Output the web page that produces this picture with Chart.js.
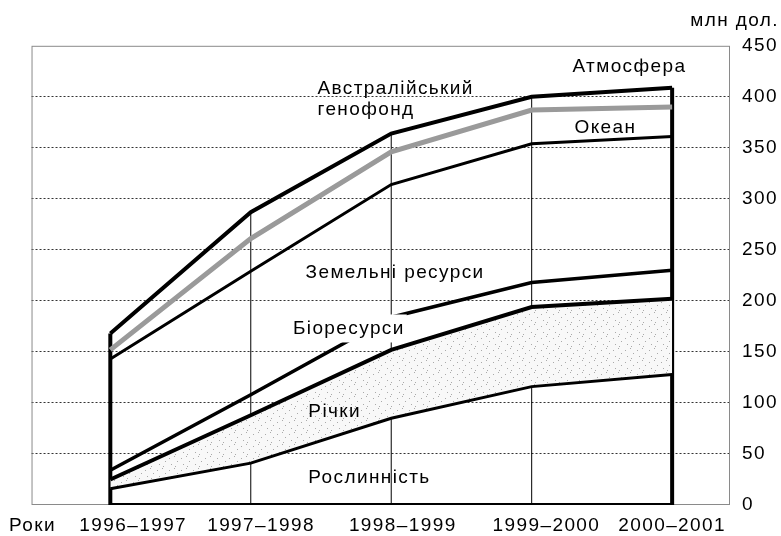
<!DOCTYPE html>
<html>
<head>
<meta charset="utf-8">
<script src="https://cdn.jsdelivr.net/npm/chart.js@4.4.1/dist/chart.umd.min.js"></script>
<style>
    html, body { margin: 0; padding: 0; background: #fff; }
    #wrap { width: 781px; height: 536px; }
</style>
</head>
<body>
<div id="wrap"><canvas id="chart" width="781" height="536"></canvas></div>
<script>
// =========================
// DATA
// =========================

const years = ["1996–1997", "1997–1998", "1998–1999", "1999–2000", "2000–2001"];
const axisName = "Роки";
const unitLabel = "млн дол.";

// upper edge of each layer, cumulative, млн дол.
const roslynnist = [16, 41, 85, 116, 128];
const richky     = [25, 88, 152, 194, 202];
const bioresursy = [34, 108, 184, 218, 230];
const zemelni    = [143, 229, 314, 354, 361];
const okean      = [152, 261, 346, 387, 390];
const atmosfera  = [168, 287, 364, 400, 409];

const yTicks = [0, 50, 100, 150, 200, 250, 300, 350, 400, 450];

// where the year captions sit on the x scale (they are not centred on the lines)
const yearLabelAt = [0.163, 1.073, 2.082, 3.105, 4.0];
const axisNameAt = -0.554;

// text written inside the plot (data coordinates)
const notes = [
    { text: "Австралійський", x: 1.475, y: 408 },
    { text: "генофонд", x: 1.475, y: 387 },
    { text: "Атмосфера", x: 3.29, y: 429 },
    { text: "Океан", x: 3.305, y: 370 },
    { text: "Земельні ресурси", x: 1.39, y: 228 },
    { text: "Біоресурси", x: 1.30, y: 173, knockout: true },
    { text: "Річки", x: 1.41, y: 91 },
    { text: "Рослинність", x: 1.41, y: 27 }
];

// =========================
// HELPERS
// =========================

const FONT = '"Liberation Sans", Arial, sans-serif';
const SIZE = 19;
const SPACING = "1.4px";

function points(arr) {
    return arr.map((v, i) => ({ x: i, y: v }));
}

function line(label, arr, width, color) {
    return {
        label: label,
        data: points(arr),
        borderColor: color || "#000",
        borderWidth: width,
        borderJoinStyle: "miter",
        pointRadius: 0,
        tension: 0,
        fill: false
    };
}

// light stipple for the "Річки" band
const canvas = document.getElementById("chart");
const tile = document.createElement("canvas");
tile.width = 12;
tile.height = 12;
const tg = tile.getContext("2d");
tg.fillStyle = "#f8f8f8";
tg.fillRect(0, 0, 12, 12);
tg.fillStyle = "#aaaaaa";
[[1, 2], [6, 0], [9, 5], [3, 8], [7, 10]].forEach(p => tg.fillRect(p[0], p[1], 1, 1));
const stipple = canvas.getContext("2d").createPattern(tile, "repeat");

// =========================
// DATASETS
// =========================

const datasets = [
    line("Рослинність", roslynnist, 3),
    Object.assign(line("Річки", richky, 4), { fill: { target: 0 }, backgroundColor: stipple }),
    line("Біоресурси", bioresursy, 3.5),
    line("Земельні ресурси", zemelni, 3),
    line("Океан", okean, 5, "#9a9a9a"),
    line("Атмосфера", atmosfera, 4)
];

// vertical lines under each year, up to the top edge
years.forEach((y, i) => {
    const edge = i === 0 || i === years.length - 1;
    datasets.push({
        label: "drop " + y,
        data: [{ x: i, y: 0 }, { x: i, y: atmosfera[i] }],
        borderColor: "#000",
        borderWidth: edge ? 4 : 1,
        pointRadius: 0,
        fill: false
    });
});

datasets.push({
    label: "base",
    data: [{ x: 0, y: 0 }, { x: years.length - 1, y: 0 }],
    borderColor: "#000",
    borderWidth: 4,
    pointRadius: 0,
    fill: false
});

// =========================
// PLUGINS
// =========================

const spacing = {
    id: "spacing",
    beforeLayout(chart) { chart.ctx.letterSpacing = SPACING; },
    beforeDraw(chart) { chart.ctx.letterSpacing = SPACING; }
};

const frame = {
    id: "frame",
    beforeDatasetsDraw(chart) {
        const a = chart.chartArea;
        const ctx = chart.ctx;
        ctx.save();
        ctx.strokeStyle = "#8a8a8a";
        ctx.lineWidth = 1;
        ctx.strokeRect(a.left + 0.5, a.top + 0.5, a.right - a.left - 1, a.bottom - a.top - 1);
        ctx.restore();
    }
};

const labels = {
    id: "labels",
    afterDatasetsDraw(chart) {
        const ctx = chart.ctx;
        const sx = chart.scales.x;
        const sy = chart.scales.y;
        ctx.save();
        ctx.letterSpacing = SPACING;
        ctx.font = SIZE + "px " + FONT;
        ctx.textAlign = "left";
        ctx.textBaseline = "middle";
        notes.forEach(n => {
            const px = sx.getPixelForValue(n.x);
            const py = sy.getPixelForValue(n.y);
            if (n.knockout) {
                const w = ctx.measureText(n.text).width;
                ctx.fillStyle = "#fff";
                ctx.fillRect(px - 2, py - 14, w + 4, 28);
            }
            ctx.fillStyle = "#000";
            ctx.fillText(n.text, px, py);
        });
        ctx.restore();
    }
};

// =========================
// CHART
// =========================

Chart.defaults.font.family = FONT;
Chart.defaults.font.size = SIZE;
Chart.defaults.color = "#000";

new Chart(canvas, {
    type: "line",
    data: { datasets: datasets },
    options: {
        responsive: false,
        animation: false,
        layout: { padding: { top: 4, left: 30, right: 2, bottom: 0 } },
        plugins: {
            legend: { display: false },
            tooltip: { enabled: false },
            title: {
                display: true,
                text: unitLabel,
                align: "end",
                font: { size: SIZE, weight: "normal" },
                color: "#000",
                padding: { top: 5, bottom: 14 }
            }
        },
        scales: {
            x: {
                type: "linear",
                min: -0.561,
                max: 4.412,
                grid: { display: false, drawTicks: false },
                border: { display: false },
                afterBuildTicks(axis) {
                    axis.ticks = [{ value: axisNameAt }].concat(yearLabelAt.map(v => ({ value: v })));
                },
                afterFit(axis) { axis.height = 31; },
                ticks: {
                    autoSkip: false,
                    maxRotation: 0,
                    padding: 9,
                    callback: (v, i) => (i === 0 ? axisName : years[i - 1])
                }
            },
            y: {
                position: "right",
                min: yTicks[0],
                max: yTicks[yTicks.length - 1],
                afterBuildTicks(axis) {
                    axis.ticks = yTicks.map(v => ({ value: v }));
                },
                afterFit(axis) { axis.width = 49; },
                grid: {
                    drawTicks: false,
                    lineWidth: 1,
                    color: ctx => (ctx.tick && (ctx.tick.value === yTicks[0] || ctx.tick.value === yTicks[yTicks.length - 1]))
                        ? "rgba(0,0,0,0)" : "#333"
                },
                border: { display: false, dash: [2, 2] },
                ticks: { padding: 12 }
            }
        }
    },
    plugins: [spacing, frame, labels]
});
</script>
</body>
</html>
